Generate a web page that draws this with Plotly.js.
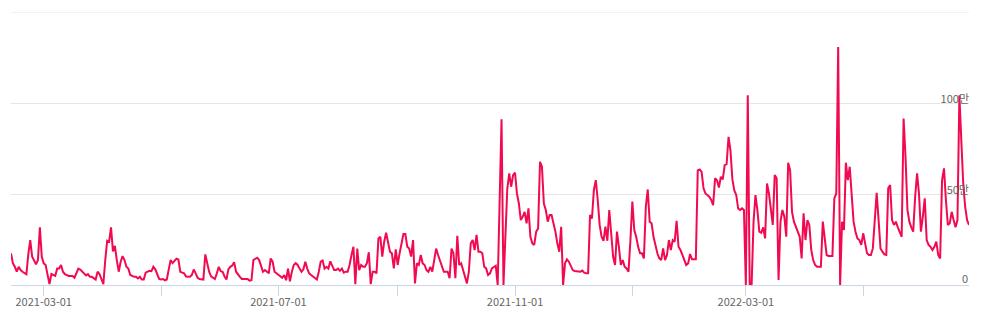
<!DOCTYPE html>
<html>
<head>
<meta charset="utf-8">
<script src="https://cdn.plot.ly/plotly-3.0.1.min.js"></script>
<style>
  html, body { margin: 0; padding: 0; background: #ffffff; }
  #chart { width: 983px; height: 314px; }
</style>
</head>
<body>
<div id="chart"></div>
<script>
// Daily values in units of 만 (10,000), one per day starting at startDate
const startDate = '2021-02-12';
const dailyValues = [
  17.4, 11.9, 10, 7.3, 10, 8.2, 7.3, 6.8, 5.9, 17, 24.7, 15.5, 13.4, 11.4, 13.7, 31.7, 15.5, 11.9, 11, 6.4,
  0.5, 6, 5.5, 5, 9, 9, 11, 7.3, 6, 5.3, 5, 5, 5, 4, 6.4, 9, 8.5, 7.3, 6, 5.3,
  6, 4.5, 4.5, 3.6, 3, 7.3, 6, 3.3, 0.5, 13.7, 24.3, 23.8, 31.7, 18.4, 21.5, 13.7, 7.3, 12.8, 15.9, 13.7,
  10, 9, 5.5, 5, 4.5, 4.5, 3.6, 4.5, 3, 3, 6.8, 7.3, 7.8, 7.6, 10, 8.6, 5.5, 3.3, 3, 3.3,
  2.6, 3, 8.6, 13.7, 12, 13.4, 14.5, 14, 7.3, 6.8, 6.4, 4.7, 4.5, 4.5, 5.5, 8.5, 6.4, 4, 3.3, 3.3,
  3, 16.8, 12, 7.3, 4.7, 4, 3.3, 6.4, 10, 7.6, 7.3, 4.7, 3, 8.6, 10, 10.7, 12.5, 7.3, 5.5, 4.5,
  3.3, 3.3, 3, 3.3, 2.4, 2.6, 13.7, 14.6, 15, 13.7, 10, 7.3, 8.2, 7.3, 6.4, 14.6, 12.8, 7.3, 6.4, 5.5,
  4.7, 4, 5.5, 2.6, 9, 2, 7.3, 11, 12, 11, 9, 7.3, 8.6, 12.8, 9, 6.4, 5.5, 4.7, 4, 3,
  7.3, 12.8, 13.4, 9, 10, 9, 13, 10, 8.2, 8.2, 9, 7.8, 9, 6.8, 7.3, 7.3, 11, 16.5, 21, 0.4,
  20, 8.2, 11, 10, 10, 12, 18, 0.5, 7.3, 7.3, 6.4, 25.6, 26.5, 15.6, 23.8, 28.7, 22.9, 18.3, 17.4, 9.1,
  19.6, 11, 17.4, 22.9, 28, 28, 21, 20, 15.6, 24.7, 0.9, 11.9, 11, 16.5, 11.9, 11, 8.2, 7.3, 10, 7.3,
  12.8, 20, 16.5, 13.7, 10, 7.3, 7.3, 7.3, 3.7, 20, 17.4, 3.7, 27, 11, 11.9, 8.2, 5.5, 0.9, 7.3, 22.9,
  24.7, 19.2, 27.5, 18.3, 18.3, 17.4, 10, 9.1, 5.5, 6.4, 9.1, 10, 10.6, 0, 52, 91, 0, 28.4, 53, 61.3,
  54, 60.4, 61.7, 50.3, 44.8, 35.7, 37.5, 40.2, 33.9, 42.1, 26.5, 22.9, 22, 29.3, 31.1, 67.7, 65, 44.8, 41.2, 34.8,
  38.4, 38.4, 33.9, 29.3, 22.9, 18.3, 32, 0, 11.9, 14.1, 12.8, 10, 8.2, 7.7, 7.7, 7.3, 7.3, 7.9, 6.8, 6.4,
  6.4, 38.4, 36.6, 52.2, 57.6, 46.7, 33, 26.5, 24.3, 32, 24.3, 41.2, 26, 15.5, 11, 29.3, 21, 11, 13.7, 10,
  9.1, 7.3, 24.7, 45.8, 30.2, 26.5, 21, 17.4, 17.4, 14.6, 43, 52.5, 34.8, 33.9, 26.5, 21, 17.4, 14.6, 13.7, 20.1,
  13.7, 16.5, 24.7, 19.2, 24.7, 23.8, 35.3, 21, 19.2, 16.5, 13.7, 11, 11.9, 17, 14.1, 14.1, 14.1, 63, 63.5, 62.2,
  53.1, 50.3, 49.4, 48.5, 46.7, 43.9, 58.6, 57.6, 53.6, 59.5, 58, 65.9, 66.4, 81.4, 74, 58, 52, 49.5, 42, 41.2,
  42.1, 41.2, 0, 104.3, 0, 0, 34.8, 49.4, 41.2, 29.3, 28.7, 31.7, 25.6, 55.8, 50.3, 43, 33, 60.4, 58.6, 2.7,
  34.8, 41.2, 37.5, 26.5, 67.2, 63.1, 40.2, 34.8, 31.7, 28.7, 26.5, 14.6, 39.4, 24.7, 35.7, 33, 19.2, 13.7, 11, 10,
  10, 10, 34.8, 26.5, 16.5, 16, 16, 16, 47.6, 50.3, 130.8, 0, 34.8, 30.2, 67.2, 57.6, 65, 50.3, 34.8, 29.3,
  25.6, 24.7, 22, 28.4, 22.9, 17.4, 16.5, 16.5, 20.1, 37.5, 50.7, 35.7, 20.1, 18.3, 16.8, 16.5, 53.1, 54.9, 35.7, 33,
  34.8, 31.7, 29.3, 26.5, 91.5, 70.5, 41.2, 34.8, 31.7, 29.3, 48.5, 61.3, 50.3, 29.3, 37.5, 47.6, 24.7, 22, 21, 19.2,
  21, 23.8, 16.5, 14.6, 57.6, 64.1, 46.7, 33, 33.9, 40.2, 35.7, 31.7, 35.7, 104.3, 79.6, 55.8, 43, 35.7, 33
];

// Axis ticks
const xTickVals = ['2021-03-01', '2021-05-01', '2021-07-01', '2021-09-01', '2021-11-01', '2022-01-01', '2022-03-01', '2022-05-01'];
const xTickText = ['2021-03-01', '', '2021-07-01', '', '2021-11-01', '', '2022-03-01', ''];
const yTickVals = [0, 50, 100, 150];
const yTickText = ['0', '50만', '100만', ''];
const yMax = 150;

// Build date list (one per day)
function addDays(iso, n) {
  const d = new Date(iso + 'T00:00:00Z');
  d.setUTCDate(d.getUTCDate() + n);
  return d.toISOString().slice(0, 10);
}
const dates = dailyValues.map((_, i) => addDays(startDate, i));

const trace = {
  type: 'scatter',
  mode: 'lines',
  x: dates,
  y: dailyValues,
  line: { color: '#f20a50', width: 2 },
  hoverinfo: 'skip'
};

// the bottom label ("0") is drawn as an annotation because Plotly hides an
// inside label that would overlap the bottom edge of the plot
const axisTickText = yTickText.map((t, i) => (i === 0 ? '' : t));

const layout = {
  width: 983,
  height: 314,
  margin: { l: 11, r: 14, t: 12, b: 29 },
  paper_bgcolor: '#ffffff',
  plot_bgcolor: '#ffffff',
  showlegend: false,
  font: { family: '"Noto Sans CJK KR", "Noto Sans", sans-serif', size: 11, color: '#666666' },
  xaxis: {
    type: 'date',
    range: [dates[0], dates[dates.length - 1]],
    tickvals: xTickVals,
    ticktext: xTickText,
    showgrid: false,
    zeroline: false,
    showline: true,
    linecolor: '#ccd6eb',
    linewidth: 1,
    ticks: 'outside',
    ticklen: 10,
    tickwidth: 1,
    tickcolor: '#ccd6eb',
    ticklabelstandoff: -3,
    tickfont: { size: 11, color: '#666666' },
    fixedrange: true
  },
  yaxis: {
    range: [0, yMax],
    side: 'right',
    tickvals: yTickVals,
    ticktext: axisTickText,
    ticklabelposition: 'inside top',
    ticklabelshift: 4,
    ticklabelstandoff: -3,
    showgrid: true,
    gridcolor: '#e6e6e6',
    gridwidth: 1,
    zeroline: false,
    showline: false,
    ticks: '',
    tickfont: { size: 11, color: '#666666' },
    fixedrange: true
  },
  shapes: [{
    type: 'line', xref: 'paper', x0: 0, x1: 1, yref: 'y', y0: yMax, y1: yMax,
    line: { color: '#e6e6e6', width: 1 }, layer: 'below'
  }],
  annotations: [{
    xref: 'paper', x: 1, xanchor: 'right', xshift: 1,
    yref: 'y', y: yTickVals[0], yanchor: 'bottom', yshift: -3,
    text: yTickText[0], showarrow: false,
    font: { size: 11, color: '#666666' }
  }]
};

Plotly.newPlot('chart', [trace], layout, { displayModeBar: false, staticPlot: true });
</script>
</body>
</html>
